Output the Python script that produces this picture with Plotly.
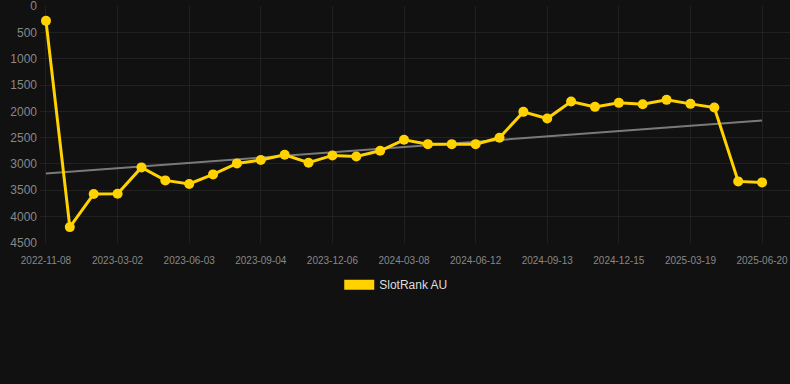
import plotly.graph_objects as go

dates = [
    "2022-11-08", "2022-12-16", "2023-01-24", "2023-03-02", "2023-04-02", "2023-05-03",
    "2023-06-03", "2023-07-04", "2023-08-04", "2023-09-04", "2023-10-05", "2023-11-05",
    "2023-12-06", "2024-01-06", "2024-02-06", "2024-03-08", "2024-04-09", "2024-05-11",
    "2024-06-12", "2024-07-13", "2024-08-13", "2024-09-13", "2024-10-14", "2024-11-14",
    "2024-12-15", "2025-01-15", "2025-02-16", "2025-03-19", "2025-04-19", "2025-05-20",
    "2025-06-20",
]
ranks = [
    280, 4200, 3570, 3565, 3065, 3312, 3381, 3198, 2989, 2926, 2825, 2977,
    2838, 2857, 2749, 2541, 2623, 2623, 2623, 2503, 2010, 2136, 1814, 1915,
    1839, 1864, 1782, 1858, 1928, 3331, 3350,
]
trend_dates = ["2022-11-08", "2025-06-20"]
trend_values = [3180, 2175]
tick_labels = dates[::3]
y_ticks = [0, 500, 1000, 1500, 2000, 2500, 3000, 3500, 4000, 4500]
series_name = "SlotRank AU"

GOLD = "#FFD200"
BG = "#111111"
GRID = "#212121"

fig = go.Figure()
fig.add_trace(go.Scatter(
    x=trend_dates, y=trend_values, mode="lines",
    line=dict(color="#7a7a7a", width=2), showlegend=False, hoverinfo="skip",
))
fig.add_trace(go.Scatter(
    x=dates, y=ranks, mode="lines+markers",
    line=dict(color=GOLD, width=3),
    marker=dict(color=GOLD, size=10),
    showlegend=False,
))
fig.add_trace(go.Scatter(
    x=[None], y=[None], mode="lines", name=series_name,
    line=dict(color=GOLD, width=12),
))

fig.update_layout(
    width=790, height=384,
    paper_bgcolor=BG, plot_bgcolor=BG,
    margin=dict(l=40, r=0, t=6, b=141),
    font=dict(family="Liberation Sans, Arial, sans-serif", color="#888888", size=11),
    xaxis=dict(
        type="category", categoryorder="array", categoryarray=dates,
        range=[-0.25, 31.17],
        tickmode="array", tickvals=tick_labels, ticktext=tick_labels,
        showgrid=True, gridcolor=GRID, gridwidth=1,
        zeroline=False, showline=False,
        tickfont=dict(size=10, color="#888888"),
        ticklabelstandoff=10, ticklabeloverflow="allow", tickangle=0,
    ),
    yaxis=dict(
        range=[4502, -2],
        tickmode="array", tickvals=y_ticks,
        showgrid=True, gridcolor=GRID, gridwidth=1,
        zeroline=False, showline=False,
        tickfont=dict(size=12, color="#888888"),
        ticklabelstandoff=2, ticklabeloverflow="allow",
    ),
    legend=dict(
        orientation="h", x=0.475, xanchor="center",
        y=-0.115, yanchor="top",
        font=dict(size=12, color="#dddddd"), bgcolor="rgba(0,0,0,0)",
    ),
)

fig.write_html("out.html", config={"displayModeBar": False},
               post_script="document.body.style.margin='0';")
